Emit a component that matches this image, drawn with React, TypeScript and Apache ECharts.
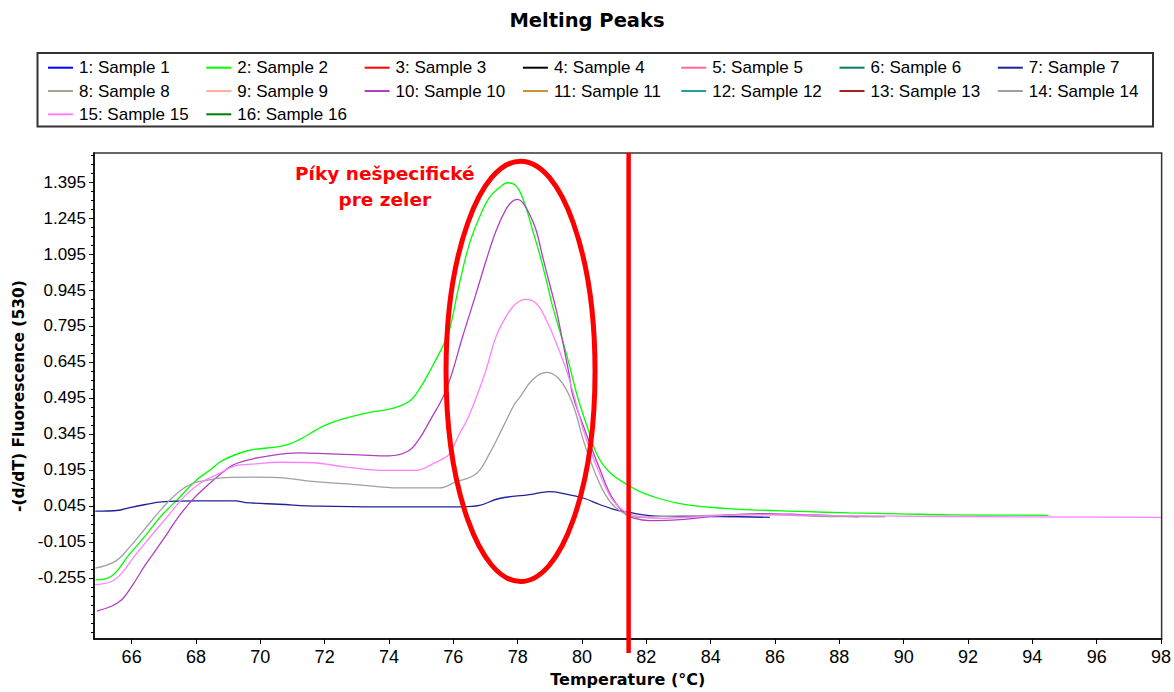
import React, { useEffect, useRef } from "react";
import * as echarts from "echarts";

const title = "Melting Peaks";
const xName = "Temperature (°C)";
const yName = "-(d/dT) Fluorescence (530)";
const xTicks = [66, 68, 70, 72, 74, 76, 78, 80, 82, 84, 86, 88, 90, 92, 94, 96, 98];
const yTicks = [-0.255, -0.105, 0.045, 0.195, 0.345, 0.495, 0.645, 0.795, 0.945, 1.095, 1.245, 1.395];
const xMin = 64.83;
const xMax = 98.02;
const yMin = -0.51;
const yMax = 1.516;

const sampleNames = [
  "1: Sample 1", "2: Sample 2", "3: Sample 3", "4: Sample 4", "5: Sample 5", "6: Sample 6",
  "7: Sample 7", "8: Sample 8", "9: Sample 9", "10: Sample 10", "11: Sample 11", "12: Sample 12",
  "13: Sample 13", "14: Sample 14", "15: Sample 15", "16: Sample 16",
];
const sampleColors = [
  "#0000ff", "#00ff00", "#ff0000", "#000000", "#ff6699", "#008060",
  "#202098", "#a0a890", "#ffb0a0", "#b040c0", "#d09030", "#20a0a0",
  "#a02020", "#a0a0a0", "#ff80ff", "#008000",
];

const sample2: number[][] = [
  [64.88, -0.263], [65.38, -0.247], [65.91, -0.16], [66.44, -0.077], [66.93, 0.005], [67.46, 0.076],
  [67.99, 0.15], [68.49, 0.2], [68.8, 0.233], [69.6, 0.275], [70.9, 0.303], [72.1, 0.386],
  [73.4, 0.435], [74.0, 0.448], [74.6, 0.478], [74.94, 0.531], [75.3, 0.615], [75.67, 0.71],
  [75.88, 0.779], [76.19, 0.972], [76.5, 1.137], [76.81, 1.247], [77.12, 1.33], [77.43, 1.371],
  [77.69, 1.392], [77.9, 1.385], [78.06, 1.358], [78.26, 1.289], [78.47, 1.192], [78.68, 1.096],
  [78.89, 0.986], [79.09, 0.875], [79.3, 0.779], [79.51, 0.682], [79.72, 0.572], [79.87, 0.496],
  [80.2, 0.36], [80.5, 0.25], [80.9, 0.18], [81.45, 0.13], [81.8, 0.105], [82.4, 0.076],
  [83.0, 0.056], [83.66, 0.043], [84.9, 0.031], [86.8, 0.022], [88.3, 0.016], [89.9, 0.012],
  [91.45, 0.008], [94.5, 0.006],
];
const sample7: number[][] = [
  [64.87, 0.023], [65.6, 0.027], [65.91, 0.037], [66.43, 0.051], [66.94, 0.062], [67.98, 0.066],
  [69.23, 0.066], [69.54, 0.059], [70.58, 0.052], [71.83, 0.044], [73.9, 0.041], [76.29, 0.041],
  [76.81, 0.047], [77.43, 0.076], [78.37, 0.092], [78.99, 0.105], [79.46, 0.096], [80.08, 0.076],
  [80.55, 0.051], [81.02, 0.03], [81.48, 0.018], [82.1, 0.005], [83.04, 0.001], [84.29, 0.001],
  [85.84, -0.003],
];
const sample10: number[][] = [
  [64.92, -0.393], [65.39, -0.372], [65.7, -0.345], [66.01, -0.289], [66.43, -0.2], [66.94, -0.103],
  [67.46, 0.0], [67.88, 0.069], [68.3, 0.124], [68.71, 0.172], [69.12, 0.213], [69.54, 0.234],
  [70.27, 0.254], [71.2, 0.266], [72.14, 0.262], [73.07, 0.258], [74.0, 0.254], [74.6, 0.274],
  [74.94, 0.324], [75.3, 0.407], [75.67, 0.496], [75.93, 0.586], [76.29, 0.751], [76.71, 0.931],
  [77.02, 1.068], [77.33, 1.192], [77.64, 1.282], [77.85, 1.316], [78.0, 1.323], [78.16, 1.309],
  [78.37, 1.261], [78.58, 1.192], [78.78, 1.082], [78.99, 0.972], [79.2, 0.862], [79.41, 0.724],
  [79.61, 0.586], [79.72, 0.503], [80.08, 0.365], [80.55, 0.2], [80.92, 0.084], [81.33, 0.013],
  [81.64, -0.007], [82.1, -0.016], [83.04, -0.012], [84.29, 0.005], [85.5, 0.013], [86.8, 0.009],
  [88.6, 0.0],
];
const sample14: number[][] = [
  [64.87, -0.214], [65.49, -0.186], [65.91, -0.131], [66.43, -0.048], [66.94, 0.034], [67.46, 0.103],
  [67.88, 0.138], [68.3, 0.151], [68.92, 0.163], [69.85, 0.165], [70.79, 0.161], [71.62, 0.147],
  [72.97, 0.134], [74.32, 0.12], [75.56, 0.12], [76.08, 0.145], [76.71, 0.179], [77.12, 0.262],
  [77.59, 0.386], [77.9, 0.469], [78.06, 0.496], [78.47, 0.572], [78.89, 0.602], [79.2, 0.586],
  [79.51, 0.531], [79.77, 0.448], [80.08, 0.303], [80.55, 0.138], [80.92, 0.055], [81.33, 0.013],
  [81.8, -0.003], [82.4, 0.001], [83.66, 0.005], [85.5, 0.009], [87.7, 0.001], [89.43, 0.0],
];
const sample15: number[][] = [
  [64.87, -0.283], [65.39, -0.269], [65.7, -0.234], [66.12, -0.159], [66.63, -0.076], [67.15, 0.007],
  [67.67, 0.089], [68.19, 0.145], [68.71, 0.179], [69.23, 0.213], [69.85, 0.22], [70.58, 0.227],
  [71.62, 0.225], [72.66, 0.207], [73.9, 0.193], [74.84, 0.193], [75.36, 0.22], [75.67, 0.241],
  [75.88, 0.262], [76.19, 0.345], [76.44, 0.407], [76.71, 0.496], [77.02, 0.613], [77.33, 0.751],
  [77.64, 0.834], [77.95, 0.889], [78.26, 0.906], [78.58, 0.889], [78.89, 0.82], [79.2, 0.724],
  [79.51, 0.613], [79.77, 0.496], [80.08, 0.345], [80.55, 0.179], [80.92, 0.076], [81.33, 0.022],
  [81.8, 0.001], [82.4, -0.007], [83.66, 0.001], [85.5, 0.009], [88.3, 0.005], [91.45, 0.001],
  [98.0, -0.003],
];

const seriesData: Record<number, number[][]> = {
  2: sample2,
  7: sample7,
  10: sample10,
  14: sample14,
  15: sample15,
};

// annotations (data coordinates)
const thresholdTemp = 81.45;
const ellipseCenter = [78.09, 0.606];
const ellipseRadius = [2.316, 0.876];
const noteText = "Píky nešpecifické\npre zeler";
const notePos = [73.87, 1.376];

export default function App() {
  const ref = useRef<HTMLDivElement>(null);

  useEffect(() => {
    if (!ref.current) return;
    const chart = echarts.init(ref.current, undefined, { renderer: "svg" });

    const minorTicks: number[] = [];
    const step = 0.15 / 4;
    for (let v = yTicks[0] - 0.15 * 2; v < yMax; v += step) {
      const r = Math.round(v * 10000) / 10000;
      if (r >= yMin && r <= yMax && !yTicks.some((t) => Math.abs(t - r) < 1e-6)) minorTicks.push(r);
    }

    const legends = [];
    for (let k = 0; k < 7; k++) {
      const data: string[] = [];
      for (let r = 0; r < 3; r++) {
        const idx = k + 7 * r;
        if (idx < 16) data.push(sampleNames[idx]);
      }
      legends.push({
        orient: "vertical",
        left: 48 + 158.3 * k,
        top: 59.2,
        padding: 0,
        itemWidth: 25,
        itemHeight: 2,
        itemGap: 6.3,
        icon: "rect",
        selectedMode: false,
        data,
        textStyle: {
          fontFamily: "Liberation Sans, Arial, sans-serif",
          fontSize: 17,
          lineHeight: 17,
          color: "#000",
          padding: [0, 0, 0, 1],
        },
      });
    }

    const series = sampleNames.map((name, i) => ({
      name,
      type: "line",
      data: seriesData[i + 1] || [],
      showSymbol: false,
      symbol: "none",
      smooth: 0.4,
      lineStyle: { color: sampleColors[i], width: 1.3 },
      itemStyle: { color: sampleColors[i] },
      xAxisIndex: 0,
      yAxisIndex: 0,
      z: 3,
    }));

    const axisFont = "Liberation Sans, Arial, sans-serif";

    chart.setOption({
      animation: false,
      backgroundColor: "#fff",
      title: {
        text: title,
        left: "center",
        top: 5,
        textStyle: {
          fontFamily: "DejaVu Sans, sans-serif",
          fontWeight: "bold",
          fontSize: 19.5,
          color: "#000",
        },
      },
      legend: legends,
      grid: {
        left: 94,
        right: 9,
        top: 153,
        bottom: 49,
        show: true,
        borderColor: "#333",
        borderWidth: 1.5,
        backgroundColor: "#fff",
      },
      xAxis: {
        type: "value",
        min: xMin,
        max: xMax,
        name: xName,
        nameLocation: "middle",
        nameGap: 31,
        nameTextStyle: {
          fontFamily: "DejaVu Sans, sans-serif",
          fontWeight: "bold",
          fontSize: 16,
          color: "#000",
        },
        axisLine: { show: true, onZero: false, lineStyle: { color: "#000", width: 1.5 } },
        axisTick: {
          show: true,
          length: 5,
          customValues: xTicks,
          lineStyle: { color: "#000" },
        },
        axisLabel: {
          customValues: xTicks,
          margin: 9,
          fontFamily: axisFont,
          fontSize: 18,
          color: "#000",
          formatter: (v: number) => String(Math.round(v)),
        },
        splitLine: { show: false },
      },
      yAxis: [
        {
          type: "value",
          min: yMin,
          max: yMax,
          name: yName,
          nameLocation: "middle",
          nameGap: 60,
          nameTextStyle: {
            fontFamily: "DejaVu Sans, sans-serif",
            fontWeight: "bold",
            fontSize: 15.5,
            color: "#000",
          },
          axisLine: { show: true, onZero: false, lineStyle: { color: "#000", width: 1.5 } },
          axisTick: {
            show: true,
            length: 5,
            customValues: yTicks,
            lineStyle: { color: "#000" },
          },
          axisLabel: {
            customValues: yTicks,
            margin: 8,
            fontFamily: axisFont,
            fontSize: 17,
            color: "#000",
            formatter: (v: number) => v.toFixed(3),
          },
          splitLine: { show: false },
        },
        {
          type: "value",
          min: yMin,
          max: yMax,
          position: "left",
          axisLine: { show: false },
          axisLabel: { show: false },
          splitLine: { show: false },
          axisTick: {
            show: true,
            length: 3,
            customValues: minorTicks,
            lineStyle: { color: "#000" },
          },
        },
      ],
      series,
    });

    const toPx = (p: number[]) => chart.convertToPixel({ xAxisIndex: 0, yAxisIndex: 0 }, p) as number[];
    const lineTop = toPx([thresholdTemp, yMax]);
    const lineBot = toPx([thresholdTemp, yMin]);
    const c = toPx(ellipseCenter);
    const ex = toPx([ellipseCenter[0] + ellipseRadius[0], ellipseCenter[1] + ellipseRadius[1]]);
    const np = toPx(notePos);

    chart.setOption({
      graphic: [
        {
          type: "rect",
          shape: { x: 37.5, y: 53, width: 1115.5, height: 73.5 },
          style: { fill: "none", stroke: "#333", lineWidth: 2 },
          z: 10,
        },
        {
          type: "line",
          shape: { x1: lineTop[0], y1: lineTop[1], x2: lineBot[0], y2: lineBot[1] + 14 },
          style: { stroke: "#ff0000", lineWidth: 4.5 },
          z: 20,
        },
        {
          type: "ellipse",
          shape: { cx: c[0], cy: c[1], rx: Math.abs(ex[0] - c[0]), ry: Math.abs(c[1] - ex[1]) },
          style: { fill: "none", stroke: "#ff0000", lineWidth: 5 },
          z: 20,
        },
        {
          type: "text",
          x: np[0],
          y: np[1],
          style: {
            text: noteText,
            fill: "#ff0000",
            font: "bold 18.5px 'DejaVu Sans', sans-serif",
            textAlign: "center",
            textVerticalAlign: "middle",
            lineHeight: 26.7,
          },
          z: 20,
        },
      ],
    });

    return () => chart.dispose();
  }, []);

  return (
    <div
      ref={ref}
      style={{ position: "fixed", left: 0, top: 0, width: 1174, height: 692, background: "#fff" }}
    />
  );
}
